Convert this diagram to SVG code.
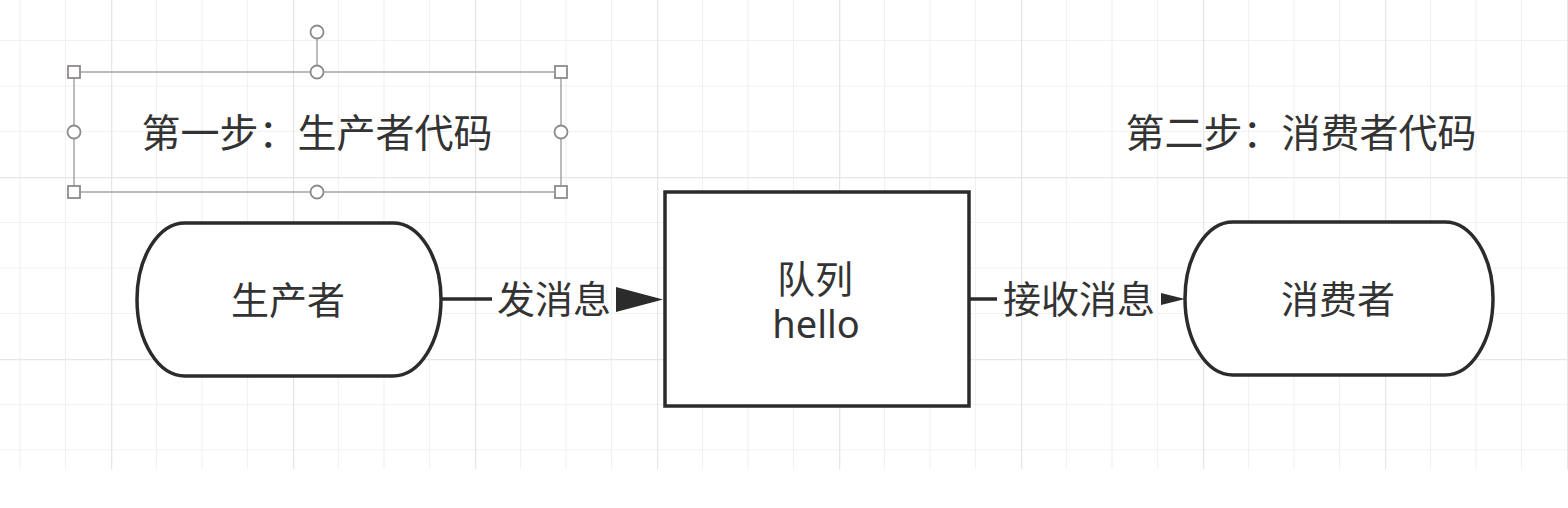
<svg xmlns="http://www.w3.org/2000/svg" width="1568" height="508" viewBox="0 0 1568 508">
  <style>
    .txt { font-family: "Noto Sans", "Noto Sans CJK SC", sans-serif; fill: #333; text-anchor: middle; }
    .node { fill: #fff; stroke: #2b2b2b; stroke-width: 3.5; }
    .edge { stroke: #2b2b2b; stroke-width: 3.5; fill: none; }
    .head { fill: #2b2b2b; stroke: none; }
    .sel { stroke: #a9a3a6; stroke-width: 1.5; fill: none; }
    .handle { fill: #fff; stroke: #8e898c; stroke-width: 1.8; }
  </style>
  <defs>
    <pattern id="grid" patternUnits="userSpaceOnUse" x="111" y="177" width="182" height="182">
      <g stroke="#f1f1f1" stroke-width="1.2">
        <line x1="45.5" y1="0" x2="45.5" y2="182"/>
        <line x1="91" y1="0" x2="91" y2="182"/>
        <line x1="136.5" y1="0" x2="136.5" y2="182"/>
        <line x1="0" y1="45.5" x2="182" y2="45.5"/>
        <line x1="0" y1="91" x2="182" y2="91"/>
        <line x1="0" y1="136.5" x2="182" y2="136.5"/>
      </g>
      <g stroke="#e6e6e6" stroke-width="1.6">
        <line x1="0.5" y1="0" x2="0.5" y2="182"/>
        <line x1="0" y1="0.5" x2="182" y2="0.5"/>
      </g>
    </pattern>
  </defs>

  <rect x="0" y="0" width="1568" height="508" fill="#fff"/>
  <rect x="0" y="0" width="1568" height="469" fill="url(#grid)"/>

  <g id="step1">
    <rect class="sel" x="74" y="72" width="487" height="120"/>
    <line class="sel" x1="317" y1="39" x2="317" y2="65"/>
    <circle class="handle" cx="317" cy="32" r="6.5"/>
    <rect class="handle" x="68" y="66" width="12" height="12"/>
    <rect class="handle" x="555" y="66" width="12" height="12"/>
    <rect class="handle" x="68" y="186" width="12" height="12"/>
    <rect class="handle" x="555" y="186" width="12" height="12"/>
    <circle class="handle" cx="317" cy="72" r="6.5"/>
    <circle class="handle" cx="317" cy="192" r="6.5"/>
    <circle class="handle" cx="74" cy="132" r="6.5"/>
    <circle class="handle" cx="561" cy="132" r="6.5"/>
    <text class="txt" x="317" y="147" font-size="39">第一步：生产者代码</text>
  </g>

  <g id="step2">
    <text class="txt" x="1301" y="147" font-size="39">第二步：消费者代码</text>
  </g>

  <g id="producer">
    <rect class="node" x="137" y="223" width="304" height="153" rx="48" ry="76.5"/>
    <text class="txt" x="288" y="314" font-size="38">生产者</text>
  </g>

  <g id="queue">
    <rect class="node" x="665" y="192" width="304" height="214"/>
    <text class="txt" x="815" y="293" font-size="38">队列</text>
    <text class="txt" x="816" y="338" font-size="38">hello</text>
  </g>

  <g id="consumer">
    <rect class="node" x="1185" y="222" width="308" height="153" rx="48" ry="76.5"/>
    <text class="txt" x="1338" y="313" font-size="38">消费者</text>
  </g>

  <g id="connectors">
    <line class="edge" x1="441" y1="299" x2="492" y2="299"/>
    <text class="txt" x="554" y="313" font-size="38">发消息</text>
    <polygon class="head" points="616,287 663,299.5 616,312"/>
    <line class="edge" x1="969" y1="299" x2="997" y2="299"/>
    <text class="txt" x="1079" y="313" font-size="38">接收消息</text>
    <polygon class="head" points="1161,293 1185,299 1161,305"/>
  </g>
</svg>
